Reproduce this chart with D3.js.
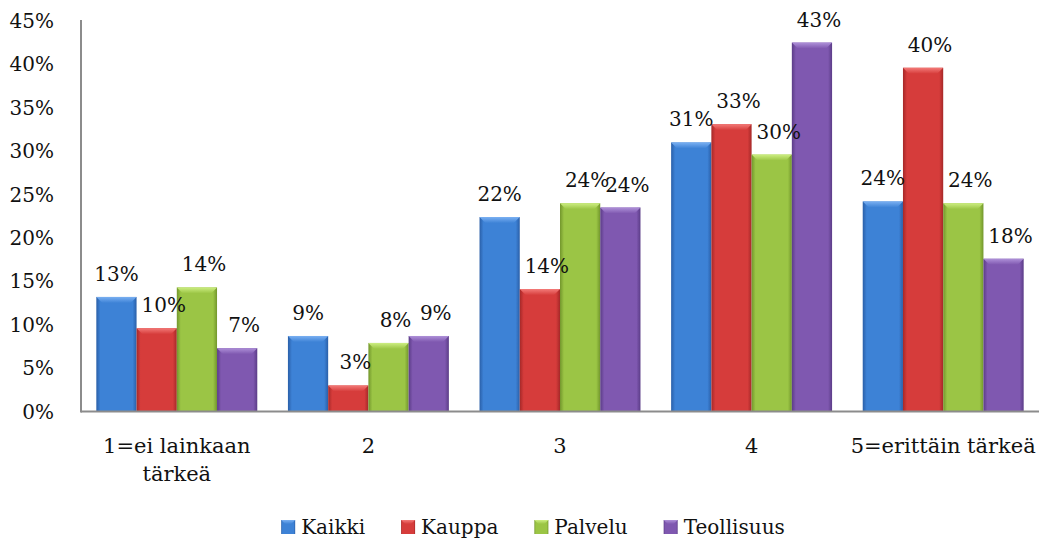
<!DOCTYPE html>
<html lang="fi">
<head>
<meta charset="utf-8">
<title>Tärkeys</title>
<script src="https://cdnjs.cloudflare.com/ajax/libs/d3/7.8.5/d3.min.js"></script>
<style>
  body { margin: 0; background: #fff; }
  text { font-family: "DejaVu Serif", serif; font-size: 20px; fill: #111; }
  .cat { font-size: 21px; }
  .axis-line { stroke: #8c8c8c; stroke-width: 2; }
</style>
</head>
<body>
<svg id="chart" width="1039" height="543"></svg>
<script>
const categories = ["1=ei lainkaan tärkeä", "2", "3", "4", "5=erittäin tärkeä"];
const series = ["Kaikki", "Kauppa", "Palvelu", "Teollisuus"];
const kaikki     = [13.2,  8.7, 22.4, 31.0, 24.2];
const kauppa     = [ 9.6,  3.0, 14.1, 33.1, 39.6];
const palvelu    = [14.3,  7.9, 24.0, 29.6, 24.0];
const teollisuus = [ 7.3,  8.7, 23.5, 42.5, 17.6];
const yTicks = [0, 5, 10, 15, 20, 25, 30, 35, 40, 45];

const colors = {
  Kaikki:     { main: "#3d82d6", dark: "#2a5fa8", light: "#7ab0f2" },
  Kauppa:     { main: "#d63c3b", dark: "#a52828", light: "#f37a78" },
  Palvelu:    { main: "#9bc545", dark: "#72962c", light: "#cdee82" },
  Teollisuus: { main: "#7f58b0", dark: "#5b3c87", light: "#ae90d8" }
};

const valuesBySeries = { Kaikki: kaikki, Kauppa: kauppa, Palvelu: palvelu, Teollisuus: teollisuus };

const svg = d3.select("#chart");
const plotLeft = 81, plotRight = 1039, plotTop = 20, plotBottom = 411.5;

const x0 = d3.scaleBand().domain(categories).range([plotLeft, plotRight]).paddingInner(0.16).paddingOuter(0.08);
const x1 = d3.scaleBand().domain(series).range([0, x0.bandwidth()]);
const y = d3.scaleLinear().domain([0, 45]).range([plotBottom, plotBottom - 45 * 8.68]);

// gradients
const defs = svg.append("defs");
series.forEach(s => {
  const g = defs.append("linearGradient").attr("id", "g-" + s).attr("x1", 0).attr("x2", 1).attr("y1", 0).attr("y2", 0);
  g.append("stop").attr("offset", "0%").attr("stop-color", colors[s].dark);
  g.append("stop").attr("offset", "10%").attr("stop-color", colors[s].main);
  g.append("stop").attr("offset", "90%").attr("stop-color", colors[s].main);
  g.append("stop").attr("offset", "100%").attr("stop-color", colors[s].dark);
  const t = defs.append("linearGradient").attr("id", "t-" + s).attr("x1", 0).attr("x2", 0).attr("y1", 0).attr("y2", 1);
  t.append("stop").attr("offset", "0%").attr("stop-color", colors[s].light);
  t.append("stop").attr("offset", "100%").attr("stop-color", colors[s].main);
});

// y tick labels
svg.append("g").selectAll("text").data(yTicks).join("text")
  .attr("x", 54).attr("y", d => y(d)).attr("dy", "0.35em")
  .attr("text-anchor", "end")
  .text(d => d + "%");

// bars
const bars = [];
categories.forEach((c, i) => series.forEach(s => bars.push({ c, s, v: valuesBySeries[s][i] })));

const bg = svg.append("g").selectAll("g").data(bars).join("g");
bg.append("rect")
  .attr("x", d => x0(d.c) + x1(d.s))
  .attr("y", d => y(d.v))
  .attr("width", x1.bandwidth())
  .attr("height", d => y(0) - y(d.v))
  .attr("fill", d => "url(#g-" + d.s + ")");
bg.append("path")
  .attr("d", d => {
    const xa = x0(d.c) + x1(d.s), xb = xa + x1.bandwidth(), yt = y(d.v), b = 6;
    return `M${xa},${yt}L${xb},${yt}L${xb - b},${yt + b}L${xa + b},${yt + b}Z`;
  })
  .attr("fill", d => "url(#t-" + d.s + ")");

// value labels (Excel nudged the non-first series slightly right)
svg.append("g").selectAll("text").data(bars).join("text")
  .attr("x", d => x0(d.c) + x1(d.s) + x1.bandwidth() / 2 + (d.s === "Kaikki" ? 0 : 7))
  .attr("y", d => y(d.v) - 16)
  .attr("text-anchor", "middle")
  .text(d => Math.round(d.v) + "%");

// axes lines
svg.append("line").attr("class", "axis-line").attr("x1", plotLeft).attr("x2", plotLeft).attr("y1", plotTop).attr("y2", plotBottom + 1);
svg.append("line").attr("class", "axis-line").attr("x1", plotLeft).attr("x2", plotRight).attr("y1", plotBottom).attr("y2", plotBottom);

// category labels with wrapping
const cl = svg.append("g").selectAll("text").data(categories).join("text")
  .attr("class", "cat")
  .attr("x", d => x0(d) + x0.bandwidth() / 2)
  .attr("y", 453)
  .attr("text-anchor", "middle");
cl.each(function (d) {
  const el = d3.select(this);
  const words = d.split(" ");
  let line = [];
  let tspan = el.append("tspan").attr("x", el.attr("x")).attr("dy", 0);
  words.forEach(w => {
    line.push(w);
    tspan.text(line.join(" "));
    if (tspan.node().getComputedTextLength() > x0.step() && line.length > 1) {
      line.pop();
      tspan.text(line.join(" "));
      line = [w];
      tspan = el.append("tspan").attr("x", el.attr("x")).attr("dy", 28).text(w);
    }
  });
});

// legend
const legend = svg.append("g");
let lx = 0;
series.forEach(s => {
  const item = legend.append("g").attr("transform", `translate(${lx},0)`);
  item.append("rect").attr("x", 0).attr("y", -7).attr("width", 14).attr("height", 14).attr("fill", "url(#g-" + s + ")");
  item.append("path").attr("d", "M0,-7L14,-7L10,-3L4,-3Z").attr("fill", "url(#t-" + s + ")");
  const t = item.append("text").attr("x", 20).attr("dy", "0.35em").text(s);
  lx += 20 + t.node().getComputedTextLength() + 36;
});
lx -= 36;
legend.attr("transform", `translate(${533 - lx / 2},527)`);
</script>
</body>
</html>
